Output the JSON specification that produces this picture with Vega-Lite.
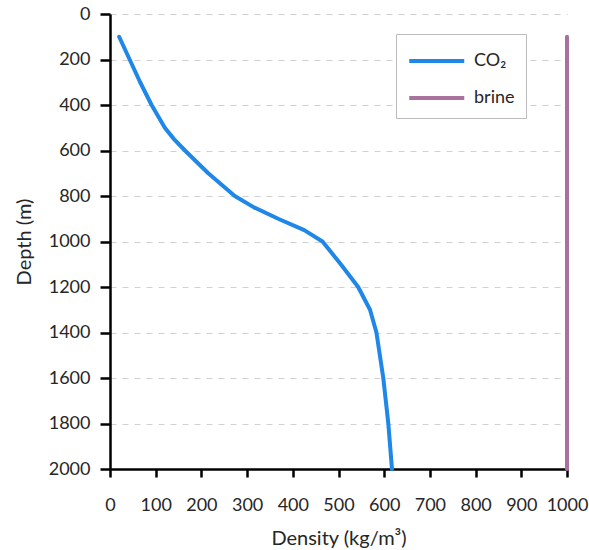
{
  "$schema": "https://vega.github.io/schema/vega-lite/v6.json",
  "autosize": {"type": "none"},
  "width": 457,
  "height": 455,
  "padding": {"left": 110, "top": 14, "right": 22, "bottom": 81},
  "background": "white",
  "config": {
    "view": {"stroke": null},
    "font": "Lato"
  },
  "data": {
    "values": [
      {"fluid": "CO₂", "depth": 100, "density": 20},
      {"fluid": "CO₂", "depth": 200, "density": 43},
      {"fluid": "CO₂", "depth": 300, "density": 66},
      {"fluid": "CO₂", "depth": 400, "density": 91},
      {"fluid": "CO₂", "depth": 500, "density": 120},
      {"fluid": "CO₂", "depth": 550, "density": 140},
      {"fluid": "CO₂", "depth": 600, "density": 164},
      {"fluid": "CO₂", "depth": 700, "density": 215},
      {"fluid": "CO₂", "depth": 800, "density": 273},
      {"fluid": "CO₂", "depth": 850, "density": 315},
      {"fluid": "CO₂", "depth": 900, "density": 368},
      {"fluid": "CO₂", "depth": 950, "density": 425},
      {"fluid": "CO₂", "depth": 1000, "density": 465},
      {"fluid": "CO₂", "depth": 1100, "density": 505},
      {"fluid": "CO₂", "depth": 1200, "density": 543},
      {"fluid": "CO₂", "depth": 1300, "density": 569},
      {"fluid": "CO₂", "depth": 1400, "density": 583},
      {"fluid": "CO₂", "depth": 1600, "density": 598},
      {"fluid": "CO₂", "depth": 1800, "density": 609},
      {"fluid": "CO₂", "depth": 2000, "density": 617},
      {"fluid": "brine", "depth": 100, "density": 1000},
      {"fluid": "brine", "depth": 2000, "density": 1000}
    ]
  },
  "mark": {"type": "line", "strokeWidth": 4, "interpolate": "linear", "clip": false, "strokeJoin": "round", "strokeCap": "round"},
  "encoding": {
    "x": {
      "field": "density",
      "type": "quantitative",
      "title": "Density (kg/m³)",
      "scale": {"domain": [0, 1000], "nice": false},
      "axis": {
        "values": [0,100,200,300,400,500,600,700,800,900,1000],
        "format": "d",
        "labelOverlap": false,
        "labelFlush": false,
        "grid": false,
        "labelFont": "Lato",
        "titleFont": "Lato",
        "labelFontSize": 18,
        "titleFontSize": 20,
        "labelFontWeight": "normal",
        "titleFontWeight": "normal",
        "labelColor": "#262626",
        "titleColor": "#262626",
        "domainColor": "#000000",
        "domainWidth": 2.5,
        "tickColor": "#000000",
        "tickWidth": 2.5,
        "tickSize": 8,
        "labelPadding": 19,
        "titlePadding": 14
      }
    },
    "y": {
      "field": "depth",
      "type": "quantitative",
      "title": "Depth (m)",
      "scale": {"domain": [0, 2000], "reverse": true, "nice": false},
      "axis": {
        "values": [0,200,400,600,800,1000,1200,1400,1600,1800,2000],
        "format": "d",
        "labelOverlap": false,
        "labelFlush": false,
        "grid": true,
        "gridColor": "#d0d0d0",
        "gridDash": [6, 6],
        "gridWidth": 1.2,
        "labelFont": "Lato",
        "titleFont": "Lato",
        "labelFontSize": 18,
        "titleFontSize": 20,
        "labelFontWeight": "normal",
        "titleFontWeight": "normal",
        "labelColor": "#262626",
        "titleColor": "#262626",
        "domainColor": "#000000",
        "domainWidth": 2.5,
        "tickColor": "#000000",
        "tickWidth": 2.5,
        "tickSize": 10,
        "labelPadding": 10,
        "titlePadding": 14
      }
    },
    "order": {"field": "depth", "type": "quantitative"},
    "color": {
      "field": "fluid",
      "type": "nominal",
      "scale": {"domain": ["CO₂", "brine"], "range": ["#1f87e8", "#a8729f"]},
      "legend": {
        "title": null,
        "orient": "none",
        "legendX": 286,
        "legendY": 20,
        "symbolType": "M-1,0H3",
        "symbolSize": 756,
        "symbolStrokeWidth": 4,
        "labelFontSize": 18,
        "labelFontWeight": "normal",
        "labelFont": "Lato",
        "labelColor": "#262626",
        "labelOffset": 35,
        "rowPadding": 12,
        "padding": 11,
        "strokeColor": "#bbbbbb",
        "fillColor": "white"
      }
    }
  }
}
